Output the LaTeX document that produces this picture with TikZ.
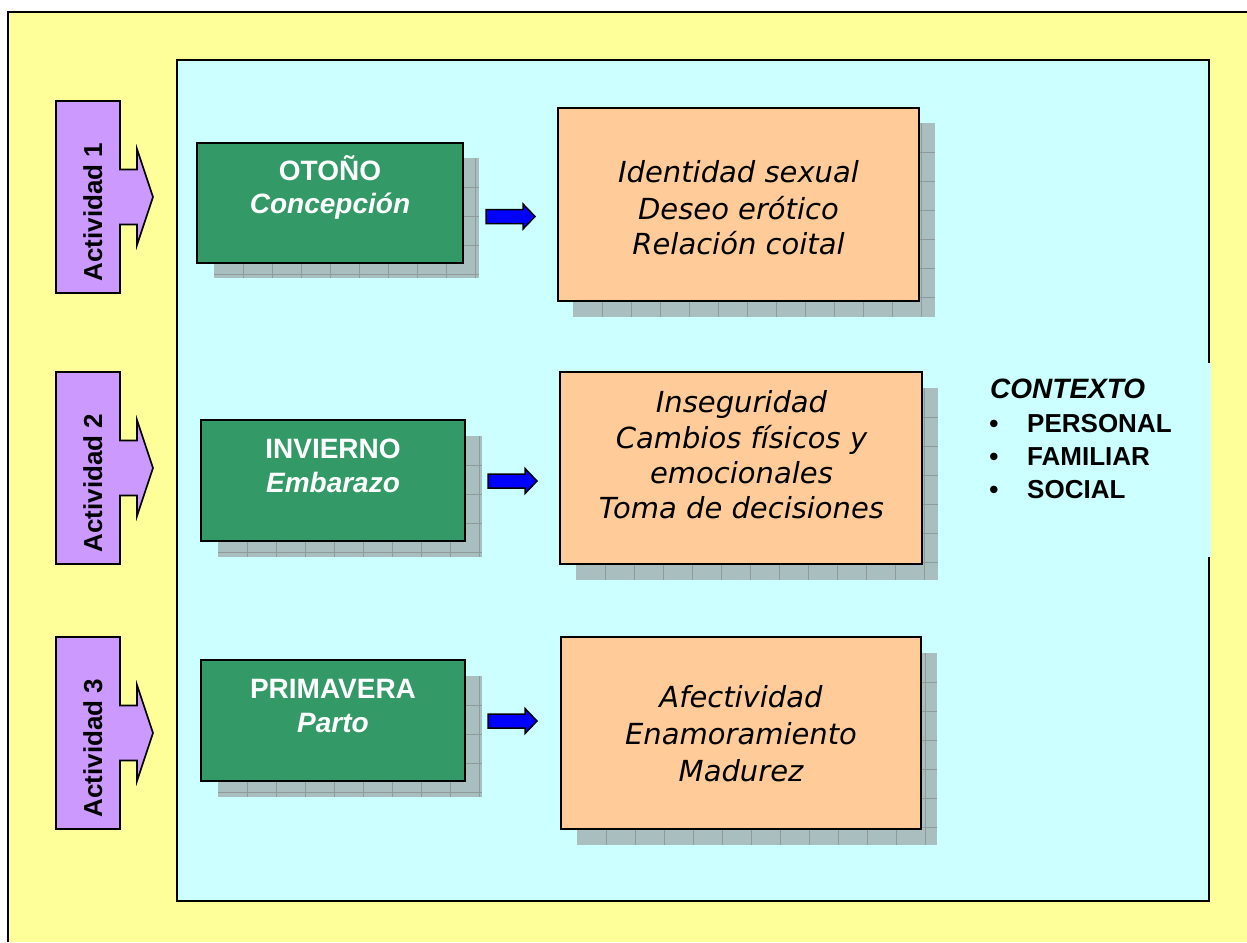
\documentclass[tikz,border=0pt]{standalone}
\usepackage{fontspec}
\newfontfamily\arialf{Liberation Sans}
\newfontfamily\verdf{DejaVu Sans}
\definecolor{yellowbg}{HTML}{FFFF99}
\definecolor{cyanbg}{HTML}{CCFFFF}
\definecolor{purplec}{HTML}{CC99FF}
\definecolor{greenc}{HTML}{339966}
\definecolor{orangec}{HTML}{FFCC99}
\definecolor{bluec}{HTML}{0000FF}
\definecolor{shadowc}{HTML}{A9BEBE}
\definecolor{gridc}{HTML}{8F9A9A}
\newcommand\shgrid[4]{%
  \fill[shadowc] (#1,#2) rectangle (#3,#4);
  \begin{scope}
    \clip (#1,#2) rectangle (#3,#4);
    \foreach \k in {1,...,14}{%
      \draw[gridc, line width=0.8pt] ({#1+29*\k},#2) -- ({#1+29*\k},#4);
      \draw[gridc, line width=0.8pt] (#1,{#2+29*\k}) -- (#3,{#2+29*\k});
    }
  \end{scope}}
\begin{document}
\begin{tikzpicture}[x=1pt,y=-1pt,
  greenbox/.style={draw=black, line width=2pt, fill=greenc, inner sep=0pt},
  orangebox/.style={draw=black, line width=1.8pt, fill=orangec, inner sep=0pt},
  actshape/.style={draw=black, line width=1.6pt, fill=purplec},
  bluearrow/.style={draw=black, line width=1.5pt, fill=bluec, line join=miter},
  gtext/.style={text=white, inner sep=0pt, anchor=base, font=\arialf\bfseries\fontsize{28pt}{33pt}\selectfont},
  gitext/.style={gtext, font=\arialf\bfseries\itshape\fontsize{28pt}{33pt}\selectfont},
  otext/.style={text=black, inner sep=0pt, anchor=base, font=\verdf\itshape\fontsize{29pt}{36pt}\selectfont},
  acttext/.style={text=black, inner sep=0pt, anchor=base, rotate=90, font=\arialf\bfseries\fontsize{26pt}{30pt}\selectfont},
  ctext/.style={text=black, inner sep=0pt, anchor=base west, font=\arialf\bfseries\fontsize{26pt}{30pt}\selectfont},
  bullet/.style={text=black, inner sep=0pt, anchor=base, font=\arialf\bfseries\fontsize{26pt}{30pt}\selectfont}]
\useasboundingbox (0,0) rectangle (1247,942);
\fill[white] (0,0) rectangle (1247,942);
% outer yellow panel
\fill[yellowbg] (8,12) rectangle (1247,942);
\draw[black, line width=2pt] (8,942) -- (8,12) -- (1247,12);
% cyan panel
\node[draw=black, line width=2.5pt, fill=cyanbg, minimum width=1032pt, minimum height=841pt, inner sep=0pt] (panel) at (693,480.5) {};
\fill[cyanbg] (1150,363) rectangle (1211,557);

% activity arrows
\foreach \c/\n in {197/1,468/2,733/3}{%
  \draw[actshape] (56,\c-96) -- (120,\c-96) -- (120,\c-27.5) -- (137,\c-27.5) -- (137,\c-48) -- (153,\c)
     -- (137,\c+48) -- (137,\c+27.5) -- (120,\c+27.5) -- (120,\c+96) -- (56,\c+96) -- cycle;
  \node[acttext] (act\n) at (102,\c+15) {Actividad \n};
}

% green boxes with shadows
\shgrid{214}{158}{479}{278}
\node[greenbox, minimum width=266pt, minimum height=120pt] (g1) at (330,203) {};
\shgrid{218}{436}{482}{557}
\node[greenbox, minimum width=264pt, minimum height=121pt] (g2) at (333,480.5) {};
\shgrid{218}{676}{482}{797}
\node[greenbox, minimum width=264pt, minimum height=121pt] (g3) at (333,720.5) {};

\node[gtext] (g1a) at (330,180) {OTOÑO};
\node[gitext] (g1b) at (330,213) {Concepción};
\node[gtext] (g2a) at (333,458) {INVIERNO};
\node[gitext] (g2b) at (333,492) {Embarazo};
\node[gtext] (g3a) at (333,698) {PRIMAVERA};
\node[gitext] (g3b) at (333,732) {Parto};

% orange boxes with shadows
\shgrid{573}{123}{935}{317}
\node[orangebox, minimum width=361pt, minimum height=193pt] (o1) at (738.5,204.5) {};
\shgrid{576}{388}{938}{580}
\node[orangebox, minimum width=362pt, minimum height=192pt] (o2) at (741,468) {};
\shgrid{577}{653}{937}{845}
\node[orangebox, minimum width=360pt, minimum height=192pt] (o3) at (741,733) {};

\node[otext] (o1a) at (738.5,182) {Identidad sexual};
\node[otext] (o1b) at (738.5,219) {Deseo erótico};
\node[otext] (o1c) at (738.5,254) {Relación coital};
\node[otext] (o2a) at (741.5,412) {Inseguridad};
\node[otext] (o2b) at (741.5,448) {Cambios físicos y};
\node[otext] (o2c) at (741.5,483) {emocionales};
\node[otext] (o2d) at (741.5,518) {Toma de decisiones};
\node[otext] (o3a) at (741,707) {Afectividad};
\node[otext] (o3b) at (741,744) {Enamoramiento};
\node[otext] (o3c) at (741,781) {Madurez};

% blue arrows
\foreach \x/\y in {486/216.5,488/481,488/721}{%
  \draw[bluearrow] (\x,\y-7) -- (\x+37,\y-7) -- (\x+37,\y-12.5) -- (\x+49,\y) -- (\x+37,\y+12.5)
     -- (\x+37,\y+7) -- (\x,\y+7) -- cycle;
}

% context
\node[ctext, font=\arialf\bfseries\itshape\fontsize{28pt}{32pt}\selectfont] (ctx) at (990,398) {CONTEXTO};
\node[bullet] (b1) at (994,432) {•};
\node[bullet] (b2) at (994,465) {•};
\node[bullet] (b3) at (994,498) {•};
\node[ctext] (c1) at (1027,432) {PERSONAL};
\node[ctext] (c2) at (1027,465) {FAMILIAR};
\node[ctext] (c3) at (1027,498) {SOCIAL};
\end{tikzpicture}
\end{document}
